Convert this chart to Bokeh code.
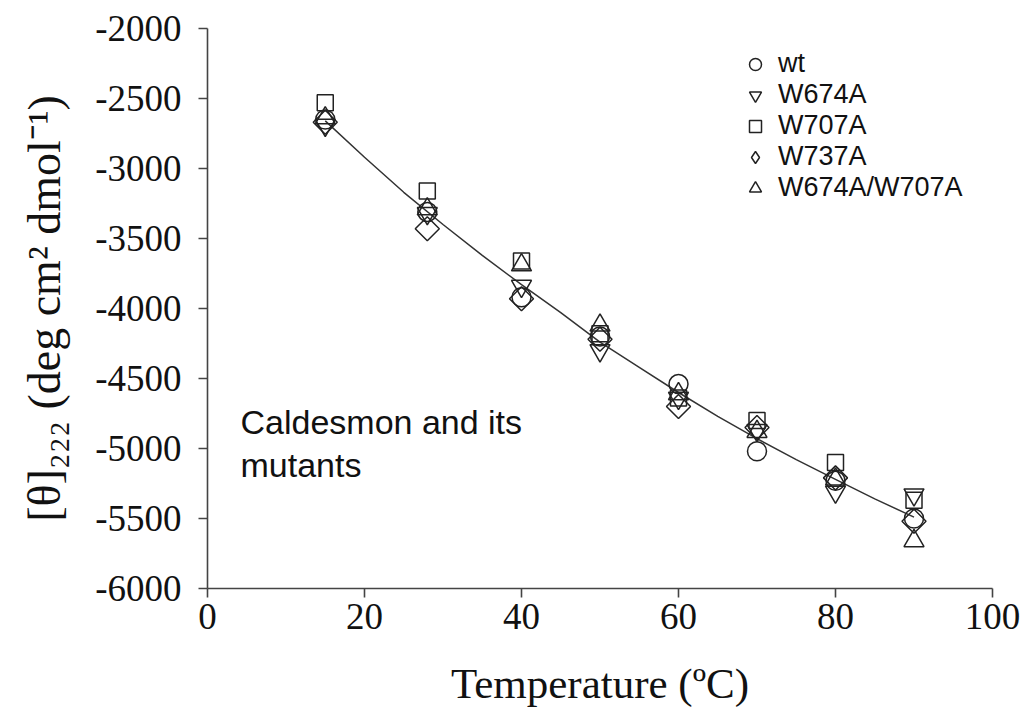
import numpy as np
from bokeh.plotting import figure
from bokeh.models import Range1d, FixedTicker, Legend, LegendItem, Label
from bokeh.embed import file_html
from bokeh.resources import INLINE

# ---- data ----
temperature = [15, 28, 40, 50, 60, 70, 80, 90]
wt = [-2650, -3310, -3920, -4200, -4540, -5020, -5230, -5500]
w674a = [-2690, -3320, -3840, -4300, -4640, -4870, -5310, -5330]
w707a = [-2530, -3160, -3660, -4180, -4640, -4800, -5100, -5370]
w737a = [-2670, -3430, -3930, -4220, -4700, -4850, -5210, -5520]
w674a_w707a = [-2640, -3290, -3690, -4120, -4610, -4880, -5220, -5660]

fit_t = [15, 20, 25, 30, 35, 40, 45, 50, 55, 60, 65, 70, 75, 80, 85, 90]
fit_theta = [-2660, -2920, -3170, -3400, -3620, -3830, -4030, -4240, -4420,
             -4600, -4770, -4930, -5080, -5220, -5360, -5490]

x_ticks = [0, 20, 40, 60, 80, 100]
y_ticks = [-6000, -5500, -5000, -4500, -4000, -3500, -3000, -2500, -2000]
y_tick_labels = ["-6000", "-5500", "-5000", "-4500", "-4000", "-3500", "-3000", "-2500", "-2000"]

p = figure(width=1025, height=717, output_backend="svg", toolbar_location=None,
           x_range=Range1d(0, 100), y_range=Range1d(-6000, -2000),
           min_border_left=207, min_border_right=33, min_border_top=28,
           min_border_bottom=129)
p.outline_line_color = None
p.xgrid.visible = False
p.ygrid.visible = False
p.background_fill_color = "white"
p.border_fill_color = "white"

for ax in (p.xaxis[0], p.yaxis[0]):
    ax.axis_line_color = "#444444"
    ax.axis_line_width = 1.6
    ax.major_tick_line_color = "#444444"
    ax.major_tick_line_width = 1.6
    ax.major_tick_out = 9
    ax.major_tick_in = 0
    ax.minor_tick_line_color = None
    ax.major_label_text_font = "Liberation Serif"
    ax.major_label_text_font_size = "37px"
    ax.major_label_text_color = "#111111"
    ax.axis_label_text_font = "Liberation Serif"
    ax.axis_label_text_font_style = "normal"
    ax.axis_label_text_color = "#111111"

p.xaxis[0].ticker = FixedTicker(ticks=x_ticks)
p.yaxis[0].ticker = FixedTicker(ticks=y_ticks)
p.yaxis[0].major_label_overrides = {t: s for t, s in zip(y_ticks, y_tick_labels)}
p.xaxis[0].major_label_standoff = 6
p.yaxis[0].major_label_standoff = 17
p.xaxis[0].axis_label = "Temperature (ºC)"
p.xaxis[0].axis_label_text_font_size = "43px"
p.xaxis[0].axis_label_standoff = 28
p.yaxis[0].axis_label = "[θ]₂₂₂ (deg cm² dmol⁻¹)"
p.yaxis[0].axis_label_text_font_size = "46px"
p.yaxis[0].axis_label_standoff = 22

# fitted curve
p.line(fit_t, fit_theta, line_color="#333333", line_width=1.5)

common = dict(fill_color=None, line_color="#222222", line_width=1.5)
r_wt = p.scatter(temperature, wt, marker="circle", size=19, **common)
r_674 = p.scatter(temperature, w674a, marker="inverted_triangle", size=20, **common)
r_707 = p.scatter(temperature, w707a, marker="square", size=16, **common)
r_737 = p.scatter(temperature, w737a, marker="square", angle=np.pi / 4, size=17, **common)
r_dbl = p.scatter(temperature, w674a_w707a, marker="triangle", size=20, **common)
# legend-only swatch for the diamond (no visible point in the plot)
r_737_key = p.scatter([np.nan], [np.nan], marker="diamond", size=17, **common)

legend = Legend(items=[
    LegendItem(label="wt", renderers=[r_wt]),
    LegendItem(label="W674A", renderers=[r_674]),
    LegendItem(label="W707A", renderers=[r_707]),
    LegendItem(label="W737A", renderers=[r_737_key]),
    LegendItem(label="W674A/W707A", renderers=[r_dbl]),
], location=(533, 385))
legend.border_line_color = None
legend.background_fill_alpha = 0
legend.padding = 0
legend.margin = 0
legend.spacing = 0
legend.glyph_width = 30
legend.glyph_height = 30
legend.label_height = 30
legend.label_standoff = 8
legend.label_text_font = "Liberation Sans"
legend.label_text_font_size = "27px"
legend.label_text_color = "#111111"
legend.label_text_baseline = "middle"
p.add_layout(legend, "center")

p.add_layout(Label(x=4.2, y=-4814, text="Caldesmon and its", text_font="Liberation Sans",
                   text_font_size="34px", text_baseline="middle", text_color="#111111"))
p.add_layout(Label(x=4.2, y=-5121, text="mutants", text_font="Liberation Sans",
                   text_font_size="34px", text_baseline="middle", text_color="#111111"))

open("out.html", "w").write(file_html(p, INLINE))
